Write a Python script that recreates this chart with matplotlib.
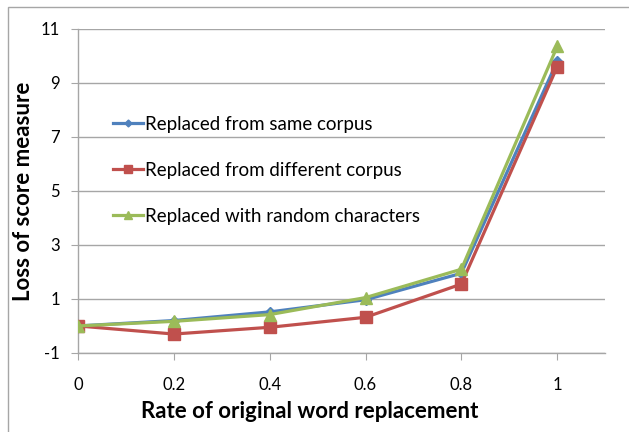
import numpy as np
import matplotlib.pyplot as plt
from matplotlib.patches import Rectangle

plt.rcParams['font.family'] = ['Lato', 'DejaVu Sans']
plt.rcParams['axes.unicode_minus'] = False

rate = [0, 0.2, 0.4, 0.6, 0.8, 1.0]
same_corpus = [0.0, 0.2, 0.52, 0.97, 1.95, 9.8]
diff_corpus = [0.0, -0.3, -0.05, 0.32, 1.55, 9.6]
random_chars = [0.0, 0.17, 0.42, 1.05, 2.1, 10.35]

labels = ['Replaced from same corpus', 'Replaced from different corpus',
          'Replaced with random characters']
colList = ['#4F81BD', '#C0504D', '#9BBB59']
markList = ['D', 's', '^']
markSize = [5, 8, 8.5]

fig = plt.figure(figsize=(6.29, 4.32), dpi=100)
ax = fig.add_axes([0.124, 0.183, 0.838, 0.75])

# outer chart border
fig.patches.append(Rectangle((8/629, -0.05), 1.0, 1-7/432+0.05, transform=fig.transFigure,
                             fill=False, edgecolor='#a6a6a6', linewidth=1))

for i, ys in enumerate([same_corpus, diff_corpus, random_chars]):
    ax.plot(rate, ys, color=colList[i], marker=markList[i], markersize=markSize[i],
            linewidth=2.3, label=labels[i], zorder=3+i if i != 1 else 3)

ax.set_xlim(0, 1.1)
ax.set_ylim(-1, 11)
ax.set_xticks([0, 0.2, 0.4, 0.6, 0.8, 1])
ax.set_xticklabels(['0', '0.2', '0.4', '0.6', '0.8', '1'])
ax.set_yticks([-1, 1, 3, 5, 7, 9, 11])
ax.yaxis.grid(True, color='#a6a6a6', linewidth=1)
ax.set_axisbelow(True)
for s in ['top', 'right']:
    ax.spines[s].set_visible(False)
for s in ['left', 'bottom']:
    ax.spines[s].set_color('#a6a6a6')
    ax.spines[s].set_linewidth(1)
ax.tick_params(axis='both', colors='#a6a6a6', labelcolor='black', labelsize=12, length=5)
ax.tick_params(axis='x', pad=12)
ax.tick_params(axis='y', pad=8)

ax.set_xlabel('Rate of original word replacement', fontsize=16, fontweight='bold')
ax.set_ylabel('Loss of score measure', fontsize=16, fontweight='bold')
ax.xaxis.set_label_coords(0.44, -0.148)
ax.yaxis.set_label_coords(-0.083, 0.5)

ax.legend(loc='upper left', bbox_to_anchor=(0.066, 0.732), frameon=False, fontsize=13.5,
          handlelength=1.6, handletextpad=0.1, labelspacing=1.55, borderaxespad=0,
          borderpad=0, markerscale=0.7)

plt.savefig('out.png', dpi=100)
